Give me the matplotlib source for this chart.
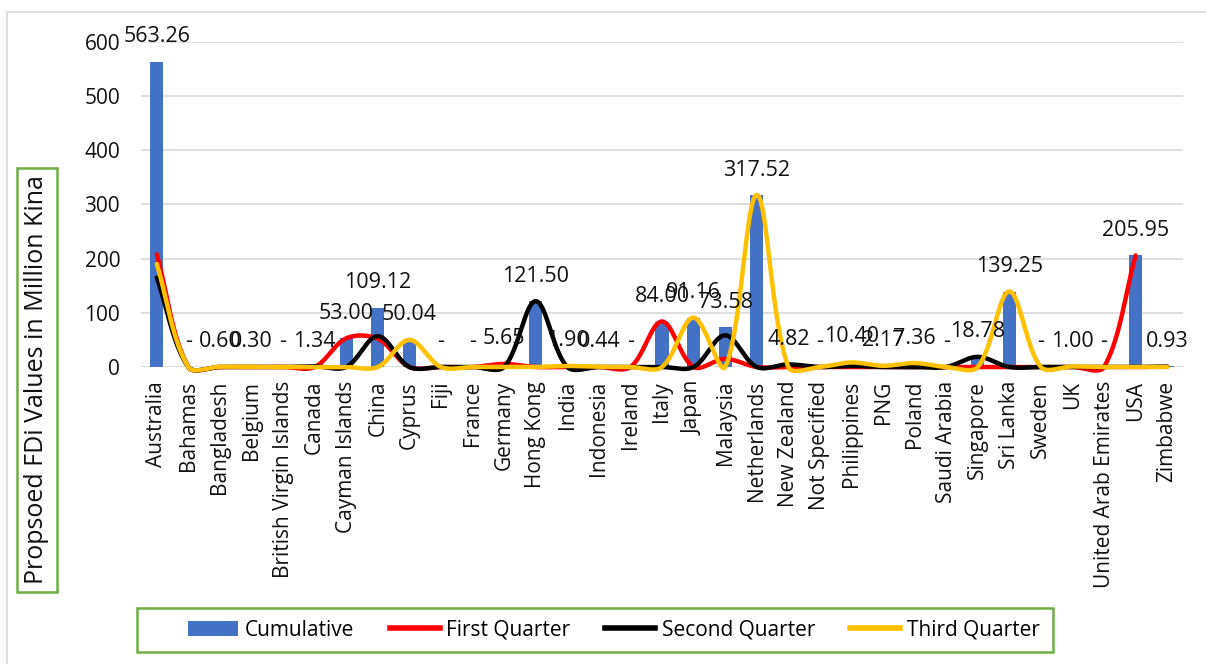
import numpy as np
import matplotlib.pyplot as plt
from matplotlib.patches import Rectangle, Patch
from matplotlib.lines import Line2D

plt.rcParams['font.family'] = ['Open Sans', 'DejaVu Sans']

countries = ['Australia', 'Bahamas', 'Bangladesh', 'Belgium', 'British Virgin Islands',
             'Canada', 'Cayman Islands', 'China', 'Cyprus', 'Fiji', 'France', 'Germany',
             'Hong Kong', 'India', 'Indonesia', 'Ireland', 'Italy', 'Japan', 'Malaysia',
             'Netherlands', 'New Zealand', 'Not Specified', 'Philippines', 'PNG', 'Poland',
             'Saudi Arabia', 'Singapore', 'Sri Lanka', 'Sweden', 'UK',
             'United Arab Emirates', 'USA', 'Zimbabwe']

cumulative = [563.26, 0, 0.60, 0.30, 0, 1.34, 53.00, 109.12, 50.04, 0, 0, 5.65,
              121.50, 1.90, 0.44, 0, 84.00, 91.16, 73.58, 317.52, 4.82, 0, 10.40, 2.17,
              7.36, 0, 18.78, 139.25, 0, 1.00, 0, 205.95, 0.93]

first_q = [208.0, 0, 0, 0, 0, 0, 53.00, 52.12, 0, 0, 0, 5.65,
           0, 0, 0, 0, 84.00, 0, 15.0, 0, 0, 0, 0, 0,
           0, 0, 0, 0, 0, 0, 0, 205.95, np.nan]

second_q = [165.0, 0, 0, 0, 0, 1.34, 0, 57.00, 0, 0, 0, 0,
            121.50, 0, 0, 0, 0, 0, 58.58, 0, 4.82, 0, 2.0, 0,
            0, 0, 18.78, 0, 0, 0, 0, 0, 0.93]

third_q = [190.26, 0, 0.60, 0.30, 0, 0, 0, 0, 50.04, 0, 0, 0,
           0, 1.90, 0.44, 0, 0, 91.16, 0, 317.52, 0, 0, 8.4, 2.17,
           7.36, 0, 0, 139.25, 0, 1.00, 0, 0, 0]

# pixel size of one category step and of one y unit, used to smooth in screen space
X_PX = 31.55
Y_PX = 0.542


def smooth(xs, ys, steps=40):
    # Bezier "smoothed line": tangent from neighbours, control length scaled by segment lengths
    pts = np.array([(x, y) for x, y in zip(xs, ys) if not np.isnan(y)], dtype=float)
    scr = pts * [X_PX, Y_PX]
    n = len(scr)
    t = np.linspace(0, 1, steps)[:, None]
    out = []
    for i in range(n - 1):
        p0 = scr[i - 1] if i > 0 else scr[i]
        p1, p2 = scr[i], scr[i + 1]
        p3 = scr[i + 2] if i + 2 < n else scr[i + 1]
        l01 = np.hypot(*(p1 - p0))
        l12 = np.hypot(*(p2 - p1))
        l23 = np.hypot(*(p3 - p2))
        f1 = l12 / (l01 + l12) / 3 if l01 + l12 > 0 else 0
        f2 = l12 / (l12 + l23) / 3 if l12 + l23 > 0 else 0
        c1 = p1 + (p2 - p0) * f1
        c2 = p2 - (p3 - p1) * f2
        seg = ((1 - t) ** 3) * p1 + 3 * ((1 - t) ** 2) * t * c1 + 3 * (1 - t) * t ** 2 * c2 + t ** 3 * p2
        out.append(seg if i == 0 else seg[1:])
    seg = np.vstack(out) / [X_PX, Y_PX]
    return seg[:, 0], seg[:, 1]


fig = plt.figure(figsize=(12.06, 6.64), dpi=100)
ax = fig.add_axes([141 / 1206, 1 - 367 / 664, (1183 - 141) / 1206, (367 - 42) / 664])

# outer chart border
fig.patches.append(Rectangle((7 / 1206, -0.01), 1.2, 1 - 12 / 664 + 0.01, transform=fig.transFigure,
                             fill=False, edgecolor='#D9D9D9', linewidth=1.2))

x = np.arange(len(countries))
ax.bar(x, cumulative, width=0.42, color='#4472C4', zorder=2)

for vals, col in [(first_q, '#FF0000'), (second_q, '#000000'), (third_q, '#FFC000')]:
    sx, sy = smooth(x, vals)
    ax.plot(sx, sy, color=col, linewidth=3.2, solid_capstyle='round', zorder=3, clip_on=False)

for xi, v in zip(x, cumulative):
    label = '-' if v == 0 else f'{v:.2f}'
    ax.annotate(label, (xi, v), xytext=(0, 18), textcoords='offset points',
                ha='center', va='center', fontsize=15.5, color='#111111', zorder=4)

ax.set_xlim(-0.5, len(countries) - 0.5)
ax.set_ylim(0, 600)
ax.set_yticks(range(0, 601, 100))
ax.yaxis.grid(True, color='#D9D9D9', linewidth=1.2, zorder=0)
ax.set_axisbelow(True)
ax.set_xticks(x)
ax.set_xticklabels(countries, rotation=90, fontsize=15, color='#111111')
ax.tick_params(axis='x', length=0, pad=10)
ax.tick_params(axis='y', length=0, pad=15, labelsize=15, labelcolor='#111111')
for s in ax.spines.values():
    s.set_visible(False)

fig.text(37 / 1206, 1 - 380 / 664, 'Propsoed FDi Values in Million Kina', rotation=90,
         ha='center', va='center', fontsize=18, color='#111111',
         bbox=dict(boxstyle='square,pad=0.3', facecolor='white', edgecolor='#70AD47', linewidth=1.8))

# legend box drawn separately so the entries can sit right of centre inside it
fig.patches.append(Rectangle((137 / 1206, 1 - 652 / 664), 916 / 1206, 44 / 664,
                             transform=fig.transFigure, fill=False,
                             edgecolor='#70AD47', linewidth=1.8))
handles = [Patch(facecolor='#4472C4', label='Cumulative'),
           Line2D([], [], color='#FF0000', lw=4, label='First Quarter'),
           Line2D([], [], color='#000000', lw=4, label='Second Quarter'),
           Line2D([], [], color='#FFC000', lw=4, label='Third Quarter')]
fig.legend(handles=handles, ncol=4, loc='center', bbox_to_anchor=(614 / 1206, 1 - 630 / 664),
           frameon=False, fontsize=15, handlelength=2.4, handleheight=0.75,
           columnspacing=1.7, handletextpad=0.3)

fig.savefig('out.png', dpi=100)
